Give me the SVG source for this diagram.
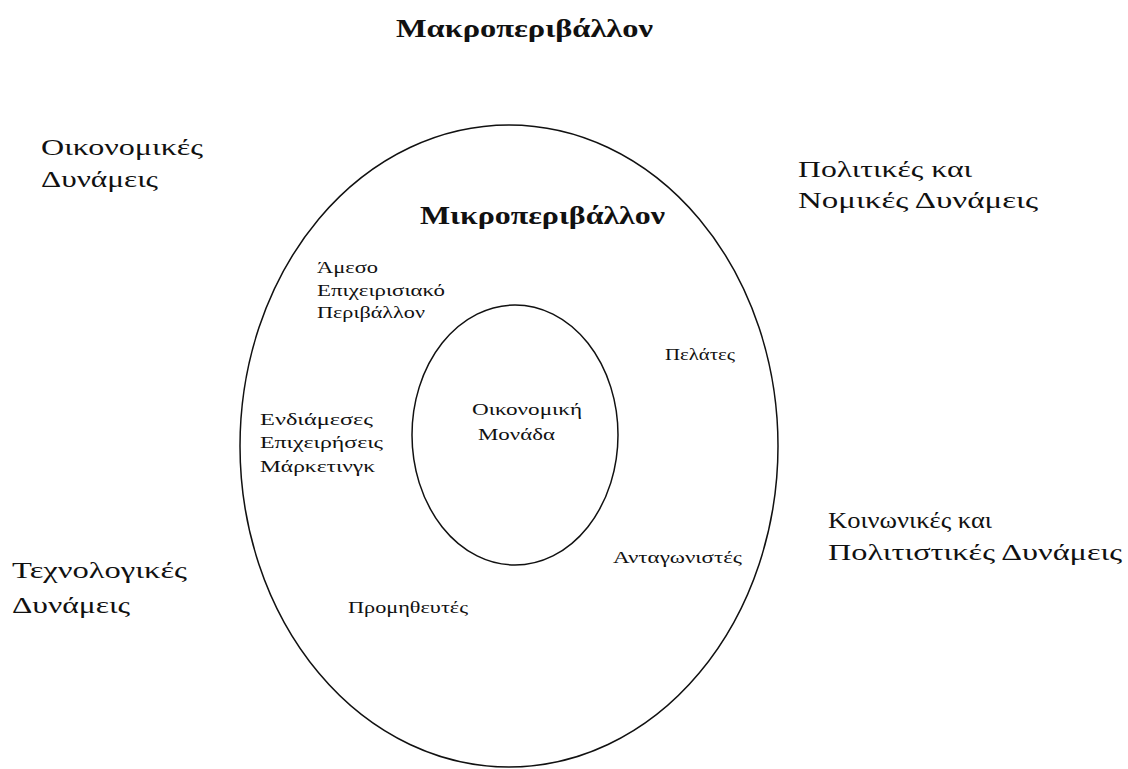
<svg xmlns="http://www.w3.org/2000/svg" width="1128" height="769" viewBox="0 0 1128 769">
<style>
.t{font-family:"Liberation Serif","DejaVu Serif",serif;fill:#111}
.big{font-size:24px}
.hd{font-size:26px;font-weight:bold}
.sm{font-size:17px}
.ring{fill:none;stroke:#111;stroke-width:1.5}
</style>
<rect width="1128" height="769" fill="#fff"/>
<g id="title"><text class="t hd" x="396" y="37" textLength="257" lengthAdjust="spacingAndGlyphs">Μακροπεριβάλλον</text></g>
<g id="outer">
<ellipse class="ring" cx="509" cy="446" rx="269" ry="321"/>
<text class="t hd" x="420" y="224" textLength="245" lengthAdjust="spacingAndGlyphs">Μικροπεριβάλλον</text>
</g>
<g id="inner">
<ellipse class="ring" cx="515" cy="435" rx="103" ry="130"/>
<text class="t sm" x="472" y="415" textLength="110" lengthAdjust="spacingAndGlyphs">Οικονομική</text>
<text class="t sm" x="478" y="440" textLength="77" lengthAdjust="spacingAndGlyphs">Μονάδα</text>
</g>
<g id="econ"><text class="t big" x="41" y="155" textLength="162" lengthAdjust="spacingAndGlyphs">Οικονομικές</text><text class="t big" x="41" y="187" textLength="117" lengthAdjust="spacingAndGlyphs">Δυνάμεις</text></g>
<g id="pol"><text class="t big" x="798" y="177" textLength="174" lengthAdjust="spacingAndGlyphs">Πολιτικές και</text><text class="t big" x="798" y="208" textLength="240" lengthAdjust="spacingAndGlyphs">Νομικές Δυνάμεις</text></g>
<g id="soc"><text class="t big" x="828" y="528" textLength="164" lengthAdjust="spacingAndGlyphs">Κοινωνικές και</text><text class="t big" x="828" y="560" textLength="294" lengthAdjust="spacingAndGlyphs">Πολιτιστικές Δυνάμεις</text></g>
<g id="tech"><text class="t big" x="12" y="578" textLength="175" lengthAdjust="spacingAndGlyphs">Τεχνολογικές</text><text class="t big" x="12" y="613" textLength="118" lengthAdjust="spacingAndGlyphs">Δυνάμεις</text></g>
<g id="direct"><text class="t sm" x="317" y="273" textLength="61" lengthAdjust="spacingAndGlyphs">Άμεσο</text><text class="t sm" x="317" y="296" textLength="128" lengthAdjust="spacingAndGlyphs">Επιχειρισιακό</text><text class="t sm" x="317" y="318" textLength="108" lengthAdjust="spacingAndGlyphs">Περιβάλλον</text></g>
<g id="clients"><text class="t sm" x="665" y="360" textLength="70" lengthAdjust="spacingAndGlyphs">Πελάτες</text></g>
<g id="inter"><text class="t sm" x="260" y="425" textLength="113" lengthAdjust="spacingAndGlyphs">Ενδιάμεσες</text><text class="t sm" x="260" y="448" textLength="123" lengthAdjust="spacingAndGlyphs">Επιχειρήσεις</text><text class="t sm" x="260" y="472" textLength="115" lengthAdjust="spacingAndGlyphs">Μάρκετινγκ</text></g>
<g id="comp"><text class="t sm" x="613" y="563" textLength="129" lengthAdjust="spacingAndGlyphs">Ανταγωνιστές</text></g>
<g id="supp"><text class="t sm" x="348" y="613" textLength="120" lengthAdjust="spacingAndGlyphs">Προμηθευτές</text></g>
<g id="connectors"></g>
</svg>
